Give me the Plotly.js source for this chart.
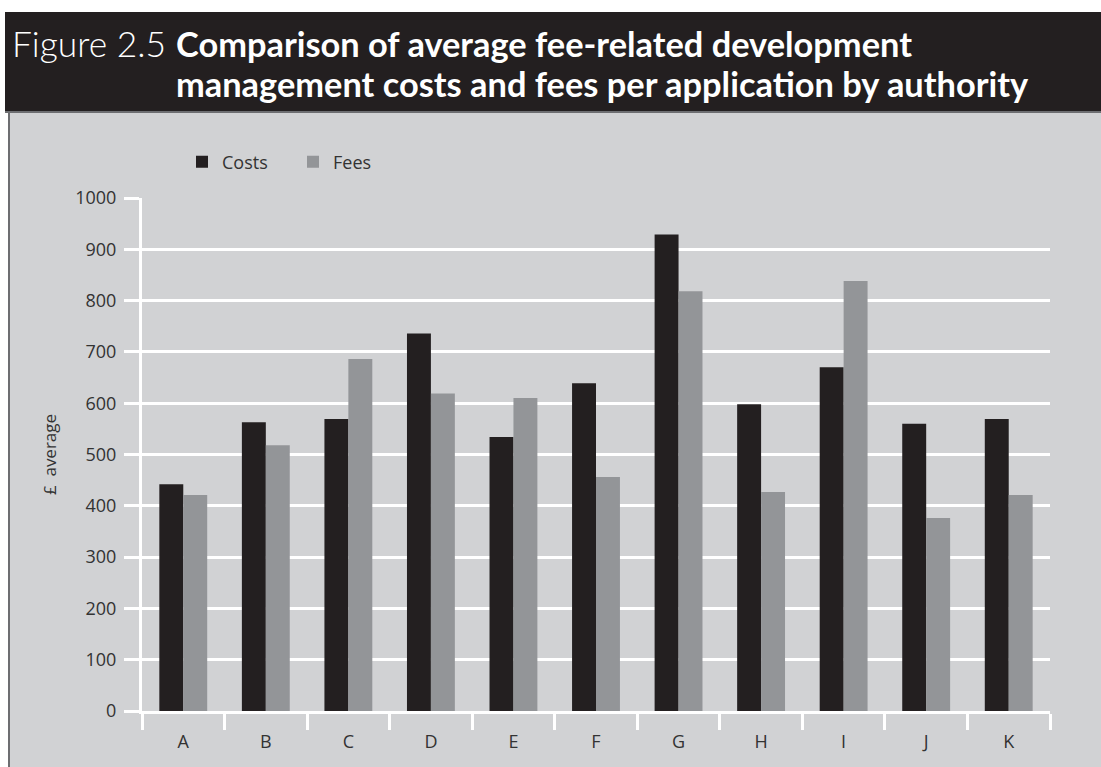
<!DOCTYPE html>
<html>
<head>
<meta charset="utf-8">
<script src="https://cdn.plot.ly/plotly-3.0.1.min.js"></script>
<style>
  html, body { margin: 0; padding: 0; background: #ffffff; }
  #chart { width: 1101px; height: 767px; }
</style>
</head>
<body>
<div id="chart"></div>
<script>
// ---- data ----
var categories = ['A', 'B', 'C', 'D', 'E', 'F', 'G', 'H', 'I', 'J', 'K'];
var costs = [442, 563, 569, 736, 534, 639, 929, 598, 670, 560, 569];
var fees  = [421, 518, 686, 619, 610, 456, 818, 427, 838, 376, 421];
var seriesNames = ['Costs', 'Fees'];
var yTicks = [0, 100, 200, 300, 400, 500, 600, 700, 800, 900, 1000];
var figureLabel = 'Figure 2.5';
var titleLine1 = 'Comparison of average fee-related development';
var titleLine2 = 'management costs and fees per application by authority';
var yTitle = '£  average';

// ---- layout geometry (pixels) ----
var W = 1101, H = 767;
var M = { l: 142, r: 51, t: 198, b: 56 };
var plotW = W - M.l - M.r, plotH = H - M.t - M.b;
function px2x(px) { return (px - M.l) / plotW; }
function px2y(py) { return (H - M.b - py) / plotH; }

var DARK = '#231f20', MID = '#939598', PANEL = '#d1d2d4', EDGE = '#6d6e71';
var titleFamily = 'Lato, "Open Sans", sans-serif';
var body = '"Open Sans", "Noto Sans", sans-serif';

// fit the header fonts to the widths they occupy in the reference
var cv = document.createElement('canvas').getContext('2d');
function fitSize(text, weight, target) {
  cv.font = weight + ' 100px ' + titleFamily;
  var w = cv.measureText(text).width;
  return Math.max(12, Math.min(40, 100 * target / w));
}
var boldSize = fitSize(titleLine2, 'bold', 854);
var lightSize = fitSize(figureLabel, '300', 154);

var traces = [
  { type: 'bar', name: seriesNames[0], x: categories, y: costs,
    marker: { color: DARK, line: { width: 0 } }, hoverinfo: 'x+y+name' },
  { type: 'bar', name: seriesNames[1], x: categories, y: fees,
    marker: { color: MID, line: { width: 0 } }, hoverinfo: 'x+y+name' }
];

var layout = {
  width: W, height: H,
  margin: M,
  paper_bgcolor: '#ffffff',
  plot_bgcolor: PANEL,
  barmode: 'group',
  bargap: 0.42,
  bargroupgap: 0,
  font: { family: body, size: 17, color: '#333333' },
  showlegend: true,
  legend: {
    orientation: 'h',
    x: px2x(182), xanchor: 'left',
    y: px2y(162), yanchor: 'middle',
    bgcolor: 'rgba(0,0,0,0)',
    font: { family: body, size: 18, color: '#333333' },
    traceorder: 'normal',
    entrywidth: 66
  },
  xaxis: {
    type: 'category',
    showgrid: false,
    zeroline: false,
    showline: true, linecolor: '#ffffff', linewidth: 3,
    ticks: 'outside', tickson: 'boundaries', ticklen: 16, tickwidth: 3, tickcolor: '#ffffff',
    ticklabelstandoff: 12,
    tickfont: { family: body, size: 18, color: '#333333' },
    fixedrange: true
  },
  yaxis: {
    range: [0, 1000],
    tickvals: yTicks,
    showgrid: true, gridcolor: '#ffffff', gridwidth: 3,
    zeroline: false,
    showline: true, linecolor: '#ffffff', linewidth: 3,
    ticks: 'outside', ticklen: 15, tickwidth: 3, tickcolor: '#ffffff',
    ticklabelstandoff: 4,
    tickfont: { family: body, size: 18, color: '#333333' },
    title: { text: yTitle, font: { family: body, size: 17, color: '#333333' }, standoff: 15 },
    fixedrange: true
  },
  shapes: [
    { type: 'rect', xref: 'paper', yref: 'paper', layer: 'below',
      x0: px2x(8), x1: px2x(W), y0: px2y(H), y1: px2y(112),
      fillcolor: PANEL, line: { width: 0 } },
    { type: 'line', xref: 'paper', yref: 'paper', layer: 'below',
      x0: px2x(9), x1: px2x(9), y0: px2y(H), y1: px2y(112),
      line: { color: EDGE, width: 2 } },
    { type: 'rect', xref: 'paper', yref: 'paper', layer: 'below',
      x0: px2x(5), x1: px2x(W), y0: px2y(112), y1: px2y(12),
      fillcolor: DARK, line: { width: 0 } },
    { type: 'line', xref: 'paper', yref: 'paper', layer: 'below',
      x0: px2x(5), x1: px2x(W), y0: px2y(112), y1: px2y(112),
      line: { color: EDGE, width: 2 } }
  ],
  annotations: [
    { xref: 'paper', yref: 'paper', x: px2x(10), y: px2y(44),
      xanchor: 'left', yanchor: 'middle', showarrow: false,
      text: figureLabel, font: { family: titleFamily, size: lightSize, weight: 300, color: '#ffffff' } },
    { xref: 'paper', yref: 'paper', x: px2x(174), y: px2y(44),
      xanchor: 'left', yanchor: 'middle', showarrow: false,
      text: titleLine1, font: { family: titleFamily, size: boldSize, weight: 700, color: '#ffffff' } },
    { xref: 'paper', yref: 'paper', x: px2x(174), y: px2y(84),
      xanchor: 'left', yanchor: 'middle', showarrow: false,
      text: titleLine2, font: { family: titleFamily, size: boldSize, weight: 700, color: '#ffffff' } }
  ]
};

Plotly.newPlot('chart', traces, layout, { displayModeBar: false });
</script>
</body>
</html>
